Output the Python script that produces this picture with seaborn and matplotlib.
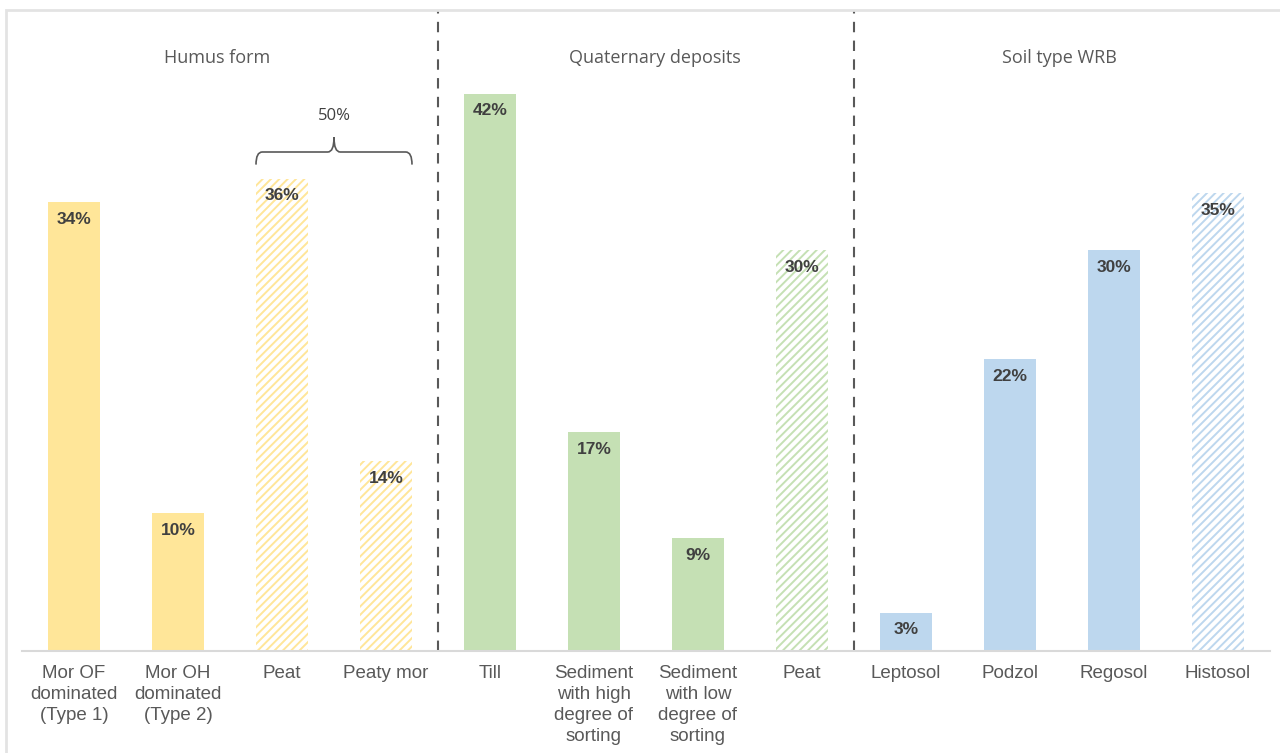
"""Share of sites per humus form, Quaternary deposit and WRB soil type."""

import matplotlib.pyplot as plt
import pandas as pd
import seaborn as sns
from matplotlib.patches import PathPatch, Rectangle
from matplotlib.path import Path

# Data
labels = [
    "Mor OF\ndominated\n(Type 1)",
    "Mor OH\ndominated\n(Type 2)",
    "Peat",
    "Peaty mor",
    "Till",
    "Sediment\nwith high\ndegree of\nsorting",
    "Sediment\nwith low\ndegree of\nsorting",
    "Peat",
    "Leptosol",
    "Podzol",
    "Regosol",
    "Histosol",
]
values = [33.8, 10.4, 35.6, 14.3, 42.0, 16.5, 8.5, 30.2, 2.9, 22.0, 30.2, 34.5]
value_labels = ["34%", "10%", "36%", "14%", "42%", "17%", "9%", "30%", "3%", "22%", "30%", "35%"]
groups = ["Humus form"] * 4 + ["Quaternary deposits"] * 4 + ["Soil type WRB"] * 4
hatched = [False, False, True, True, False, False, False, True, False, False, False, True]

group_titles = ["Humus form", "Quaternary deposits", "Soil type WRB"]
title_x = [1.38, 5.59, 9.48]
separators = [3.5, 7.5]
brace_span = (2, 3)
brace_label = "50%"

group_colors = {
    "Humus form": "#FFE699",
    "Quaternary deposits": "#C5E0B4",
    "Soil type WRB": "#BDD7EE",
}

df = pd.DataFrame({"key": [str(i) for i in range(len(values))], "value": values, "group": groups})
palette = {k: group_colors[g] for k, g in zip(df["key"], df["group"])}

# Plot
sns.set_style("white")
plt.rcParams["font.family"] = ["Liberation Sans", "DejaVu Sans"]
plt.rcParams["hatch.linewidth"] = 1.4

fig = plt.figure(figsize=(12.8, 7.53), dpi=100)
ax = fig.add_axes([22 / 1280, 1 - 651 / 753, 1248 / 1280, 641 / 753])

sns.barplot(df, x="key", y="value", hue="key", palette=palette, legend=False,
            width=0.5, saturation=1, ax=ax)

for patch, is_hatched, key in zip(ax.patches, hatched, df["key"]):
    patch.set_linewidth(0)
    if is_hatched:
        col = palette[key]
        patch.set_facecolor("white")
        patch.set_edgecolor(col)
        patch.set_hatch("////")

# value labels inside the top of each bar
for i, (v, txt) in enumerate(zip(values, value_labels)):
    ax.annotate(txt, (i, v), xytext=(0, -7), textcoords="offset points",
                ha="center", va="top", fontsize=12.5, fontweight="bold", color="#404040")

ax.set_xlim(-0.5, len(values) - 0.5)
ax.set_ylim(0, 48.3)
ax.set_xticks(range(len(values)))
ax.set_xticklabels(labels, fontsize=13.5, color="#595959", linespacing=1.32)
ax.tick_params(axis="x", length=0, pad=10)
ax.set_yticks([])
ax.set_xlabel("")
ax.set_ylabel("")
for side in ["left", "right", "top"]:
    ax.spines[side].set_visible(False)
ax.spines["bottom"].set_color("#D9D9D9")
ax.spines["bottom"].set_linewidth(1.5)

for xs in separators:
    ax.axvline(xs, color="#595959", linestyle=(0, (5, 4)), linewidth=1.5)

for title, tx in zip(group_titles, title_x):
    ax.text(tx, 44.7, title, ha="center", va="center", fontsize=13,
            family=["Open Sans", "DejaVu Sans"], color="#595959")

# curly brace over the peat-type humus forms
x0, x1 = brace_span[0] - 0.25, brace_span[1] + 0.25
xm = (x0 + x1) / 2
yb, yl, yt = 36.65, 37.6, 38.7
verts = [
    (x0, yb), (x0, yl), (x0 + 0.06, yl),
    (xm - 0.06, yl),
    (xm, yl), (xm, yt),
    (xm, yl), (xm + 0.06, yl),
    (x1 - 0.06, yl),
    (x1, yl), (x1, yb),
]
codes = [
    Path.MOVETO, Path.CURVE3, Path.CURVE3,
    Path.LINETO,
    Path.CURVE3, Path.CURVE3,
    Path.CURVE3, Path.CURVE3,
    Path.LINETO,
    Path.CURVE3, Path.CURVE3,
]
ax.add_patch(PathPatch(Path(verts, codes), fill=False, edgecolor="#595959", linewidth=1.2))
ax.text(xm, 40.3, brace_label, ha="center", va="center", fontsize=12,
        family=["Open Sans", "DejaVu Sans"], color="#404040")

# light frame around the chart
fig.patches.append(Rectangle((6 / 1280, -0.1), 1.2, 1.1 - 10 / 753, transform=fig.transFigure,
                             fill=False, edgecolor="#E3E3E3", linewidth=2, zorder=0))

plt.savefig("out.png", dpi=100)
